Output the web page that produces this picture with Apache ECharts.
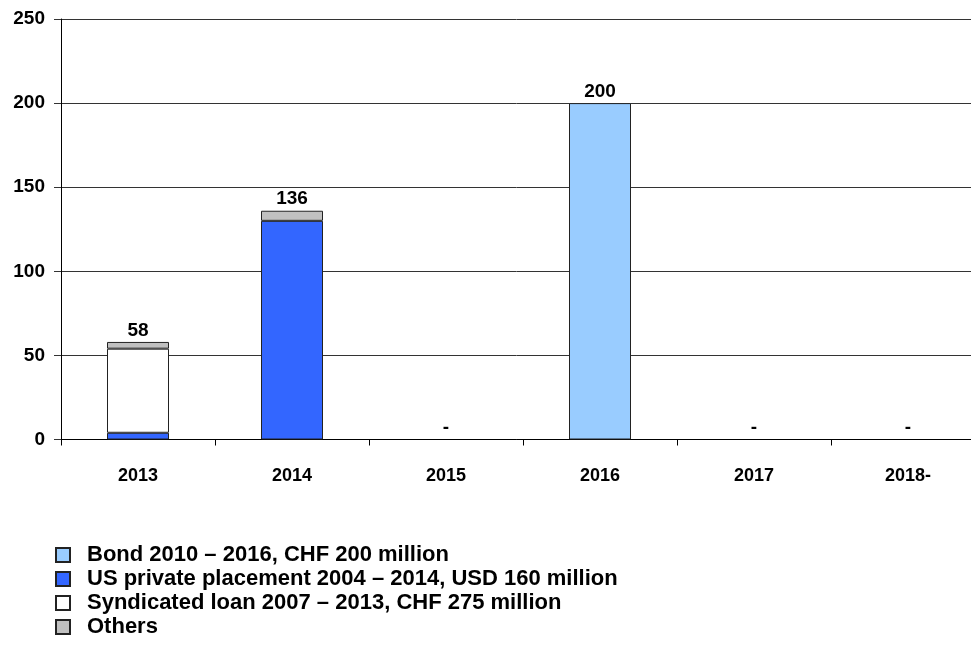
<!DOCTYPE html>
<html>
<head>
<meta charset="utf-8">
<script src="https://cdn.jsdelivr.net/npm/echarts@6/dist/echarts.min.js"></script>
<style>
  html, body { margin: 0; padding: 0; background: #fff; }
  #chart { width: 971px; height: 653px; }
</style>
</head>
<body>
<div id="chart"></div>
<script>
// Maturity profile by year (amounts in millions)
const years = ['2013', '2014', '2015', '2016', '2017', '2018-'];
const bond = [0, 0, 0, 200, 0, 0];
const usPrivatePlacement = [4, 130, 0, 0, 0, 0];
const syndicatedLoan = [50, 0, 0, 0, 0, 0];
const others = [4, 6, 0, 0, 0, 0];
const yTicks = [0, 50, 100, 150, 200, 250];

const names = {
  bond: 'Bond 2010 \u2013 2016, CHF 200 million',
  usp: 'US private placement 2004 \u2013 2014, USD 160 million',
  synd: 'Syndicated loan 2007 \u2013 2013, CHF 275 million',
  others: 'Others'
};

const totals = years.map((_, i) =>
  bond[i] + usPrivatePlacement[i] + syndicatedLoan[i] + others[i]);

const font = 'Arial, "Liberation Sans", sans-serif';
const border = { borderColor: '#222', borderWidth: 1 };

function stackSeries(name, data, color) {
  return {
    name: name,
    type: 'bar',
    stack: 'total',
    barWidth: 62,
    data: data.map(v => (v === 0 ? null : v)),
    itemStyle: Object.assign({ color: color }, border),
    emphasis: { disabled: true }
  };
}

const chart = echarts.init(document.getElementById('chart'), null, { renderer: 'canvas' });

chart.setOption({
  animation: false,
  backgroundColor: '#fff',
  textStyle: { fontFamily: font },
  // the plot runs a little past the right edge of the canvas
  grid: { left: 61, width: 924, top: 19, bottom: 213.5, containLabel: false, outerBoundsMode: 'none' },
  legend: {
    orient: 'vertical',
    left: 50,
    top: 539,
    itemWidth: 14,
    itemHeight: 14,
    itemGap: 2,
    icon: 'rect',
    selectedMode: false,
    data: [names.bond, names.usp, names.synd, names.others],
    textStyle: { fontFamily: font, fontWeight: 'bold', fontSize: 22, color: '#000', padding: [0, 0, 0, 12] }
  },
  xAxis: {
    type: 'category',
    data: years,
    axisLine: { lineStyle: { color: '#000', width: 1 } },
    axisTick: { show: true, length: 6, lineStyle: { color: '#000' } },
    axisLabel: { fontFamily: font, fontWeight: 'bold', fontSize: 18, color: '#000', margin: 28 }
  },
  yAxis: {
    type: 'value',
    min: yTicks[0],
    max: yTicks[yTicks.length - 1],
    interval: yTicks[1] - yTicks[0],
    axisLine: { show: true, lineStyle: { color: '#000', width: 1 } },
    axisTick: { show: true, length: 7, lineStyle: { color: '#333' } },
    splitLine: { lineStyle: { color: '#333', width: 1 } },
    axisLabel: { fontFamily: font, fontWeight: 'bold', fontSize: 19, color: '#000', margin: 16 }
  },
  series: [
    stackSeries(names.usp, usPrivatePlacement, '#3366FF'),
    stackSeries(names.synd, syndicatedLoan, '#FFFFFF'),
    stackSeries(names.others, others, '#C0C0C0'),
    stackSeries(names.bond, bond, '#99CCFF'),
    {
      // zero-height bar on top of each stack carrying the total label
      name: 'total',
      type: 'bar',
      stack: 'total',
      barWidth: 62,
      data: years.map(() => 0),
      itemStyle: { color: 'transparent' },
      label: {
        show: true,
        position: 'top',
        distance: 2,
        fontFamily: font,
        fontWeight: 'bold',
        fontSize: 19,
        color: '#000',
        formatter: p => (totals[p.dataIndex] === 0 ? '-' : String(totals[p.dataIndex]))
      },
      emphasis: { disabled: true }
    }
  ]
});
</script>
</body>
</html>
